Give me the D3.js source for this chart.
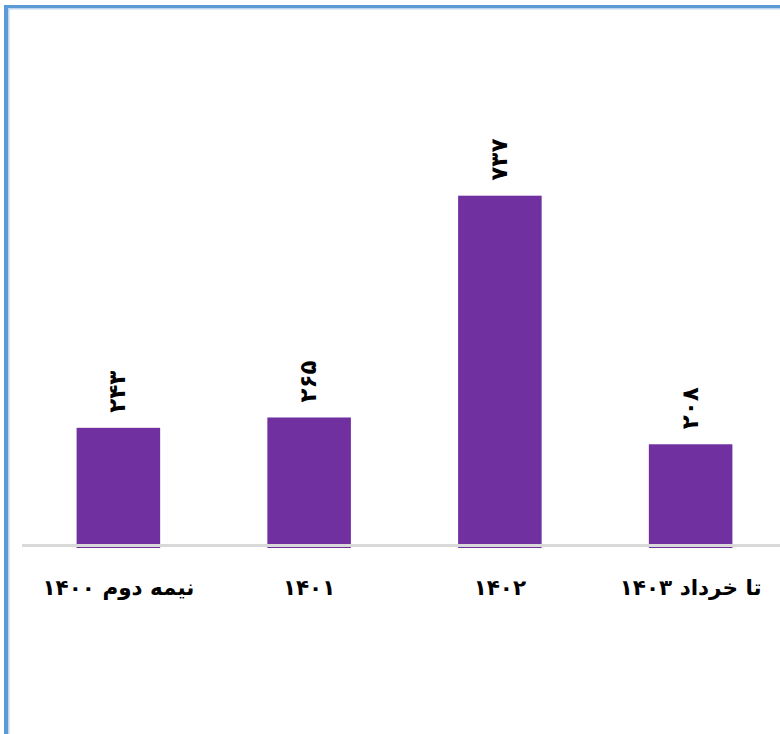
<!DOCTYPE html>
<html>
<head>
<meta charset="utf-8">
<script src="https://cdn.jsdelivr.net/npm/d3@7"></script>
<style>
  html, body { margin: 0; padding: 0; background: #ffffff; }
  svg { display: block; }
</style>
</head>
<body>
<svg id="chart" width="780" height="734"></svg>
<script>
// Data
const categories = ["نیمه دوم ۱۴۰۰", "۱۴۰۱", "۱۴۰۲", "تا خرداد ۱۴۰۳"];
const values = [243, 265, 737, 208];

const W = 780, H = 734;
const svg = d3.select("#chart");

// Frame (blue border on the top and left edges)
svg.append("rect").attr("x", 4).attr("y", 5).attr("width", W - 4).attr("height", 3).attr("fill", "#5B9BD5");
svg.append("rect").attr("x", 7).attr("y", 8).attr("width", W - 7).attr("height", 1.5).attr("fill", "#BDD7EE");
svg.append("rect").attr("x", 4).attr("y", 5).attr("width", 4).attr("height", H - 5).attr("fill", "#5B9BD5");
svg.append("rect").attr("x", 8).attr("y", 8).attr("width", 1.5).attr("height", H - 8).attr("fill", "#BDD7EE");

// Scales
const x = d3.scaleBand()
  .domain(categories)
  .range([23, 786])
  .paddingInner(0.562)
  .paddingOuter(0.281);

const y = d3.scaleLinear()
  .domain([0, 737])
  .range([542, 195.7]);

const toFa = n => String(n).replace(/\d/g, d => "۰۱۲۳۴۵۶۷۸۹"[+d]);

const data = categories.map((c, i) => ({ c, v: values[i] }));

// Bars
svg.append("g").selectAll("rect")
  .data(data)
  .join("rect")
  .attr("x", d => x(d.c))
  .attr("y", d => y(d.v))
  .attr("width", x.bandwidth())
  .attr("height", d => y(0) - y(d.v) + 6)
  .attr("fill", "#7030A0");

// Category axis line
svg.append("line")
  .attr("x1", 22).attr("x2", W)
  .attr("y1", 545.5).attr("y2", 545.5)
  .attr("stroke", "#D9D9D9").attr("stroke-width", 3);

// Value labels (rotated)
svg.append("g").selectAll("text")
  .data(data)
  .join("text")
  .attr("transform", d => `translate(${x(d.c) + x.bandwidth() / 2 - 1},${y(d.v) - 15}) rotate(-90)`)
  .attr("text-anchor", "start")
  .attr("dominant-baseline", "central")
  .attr("font-family", "DejaVu Sans, sans-serif")
  .attr("font-weight", "bold")
  .attr("font-size", 23)
  .attr("fill", "#000")
  .text(d => toFa(d.v));

// Category labels
const labels = svg.append("g").selectAll("text")
  .data(data)
  .join("text")
  .attr("x", d => x(d.c) + x.bandwidth() / 2)
  .attr("y", 595)
  .attr("text-anchor", "middle")
  .attr("direction", "rtl")
  .attr("font-family", "DejaVu Sans, sans-serif")
  .attr("font-weight", "bold")
  .attr("font-size", 21.5)
  .attr("fill", "#000")
  .text(d => d.c);

// Keep category labels inside the right edge
labels.each(function () {
  const t = d3.select(this);
  const w = this.getComputedTextLength();
  const cx = +t.attr("x");
  if (cx + w / 2 > W - 3) t.attr("x", W - 3 - w / 2);
});
</script>
</body>
</html>
